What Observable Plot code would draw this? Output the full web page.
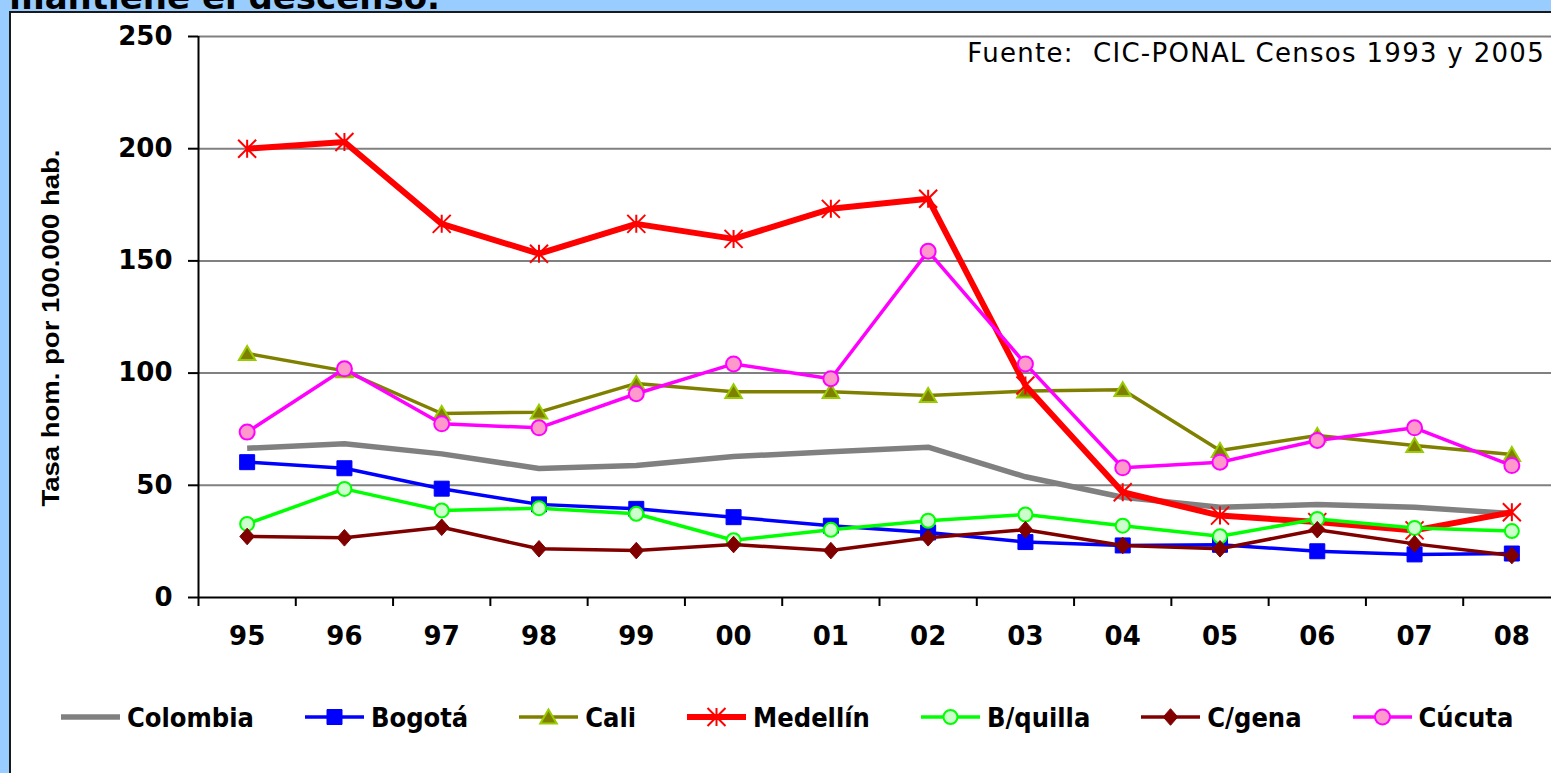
<!DOCTYPE html>
<html><head><meta charset="utf-8">
<script src="https://cdn.jsdelivr.net/npm/d3@7"></script>
<script src="https://cdn.jsdelivr.net/npm/@observablehq/plot@0.6"></script>
<style>
html,body{margin:0;padding:0;}
body{width:1551px;height:773px;overflow:hidden;background:#99CCFF;position:relative;font-family:"DejaVu Sans",sans-serif;}
#panel{position:absolute;left:9px;top:11px;width:1620px;height:820px;background:#fff;border-left:2px solid #1a1a1a;border-top:2px solid #1a1a1a;}
#chart{position:absolute;left:0;top:0;width:1600px;}
#overlay{position:absolute;left:0;top:0;pointer-events:none;}
#legend{position:absolute;left:61px;top:699px;height:36px;display:flex;align-items:center;gap:51px;}
.item{display:flex;align-items:center;gap:7px;}
.item span{font-family:"DejaVu Sans Condensed","DejaVu Sans",sans-serif;font-stretch:condensed;font-weight:bold;font-size:27px;color:#000;white-space:nowrap;}
.item svg{display:block;overflow:visible;}
</style></head><body>
<div id="panel"></div>
<div id="chart"></div>
<svg id="overlay" width="1551" height="773">
  <text x="440" y="9" text-anchor="end" font-family="DejaVu Sans" font-weight="bold" font-size="34" fill="#000">mantiene el descenso.</text>
  <text transform="translate(59,328) rotate(-90)" text-anchor="middle" font-family="Liberation Sans Narrow, Liberation Sans" font-weight="bold" font-size="23" textLength="357" lengthAdjust="spacingAndGlyphs" fill="#000">Tasa hom. por 100.000 hab.</text>
  <text x="1545" y="62" text-anchor="end" font-family="DejaVu Sans" font-size="26" letter-spacing="1.3" style="white-space:pre" fill="#000">Fuente:  CIC-PONAL Censos 1993 y 2005</text>
</svg>
<div id="legend"></div>
<script>
// ---- data ----
const years = ["95","96","97","98","99","00","01","02","03","04","05","06","07","08"];
const seriesNames = ["Colombia","Bogotá","Cali","Medellín","B/quilla","C/gena","Cúcuta"];
const colombia     = [66.5, 68.5, 64.0, 57.5, 58.8, 62.8, 65.0, 67.0, 53.8, 44.7, 40.2, 41.4, 40.2, 37.4];
const bogota       = [60.3, 57.6, 48.5, 41.5, 39.5, 35.8, 32.0, 29.0, 24.7, 23.2, 23.5, 20.6, 19.2, 19.6];
const cali         = [108.7, 101.0, 82.0, 82.6, 95.4, 91.7, 91.7, 90.0, 92.0, 92.6, 65.5, 72.2, 67.7, 63.7];
const medellin     = [200.0, 203.0, 166.5, 153.2, 166.5, 159.8, 173.2, 177.7, 94.5, 46.9, 36.5, 33.6, 29.9, 38.0];
const barranquilla = [32.8, 48.4, 38.8, 39.8, 37.3, 25.5, 30.2, 34.2, 37.0, 32.0, 27.3, 35.0, 31.0, 29.6];
const cartagena    = [27.2, 26.6, 31.3, 21.7, 20.9, 23.6, 20.9, 26.6, 30.2, 23.2, 21.7, 30.2, 23.9, 18.7];
const cucuta       = [73.7, 101.9, 77.4, 75.6, 90.8, 104.1, 97.5, 154.3, 104.1, 57.8, 60.3, 70.0, 75.6, 58.8];
const yTicks = [0, 50, 100, 150, 200, 250];
const seriesValues = [colombia, bogota, cali, medellin, barranquilla, cartagena, cucuta];

// ---- marker shapes ----
const rad = s => Math.sqrt(s / Math.PI);
const square = {draw(c, s){const r = rad(s); c.moveTo(-r,-r); c.lineTo(r,-r); c.lineTo(r,r); c.lineTo(-r,r); c.closePath();}};
const triangle = {draw(c, s){const r = rad(s); c.moveTo(0,-r); c.lineTo(r*1.1, r*0.85); c.lineTo(-r*1.1, r*0.85); c.closePath();}};
const diamond = {draw(c, s){const r = rad(s); c.moveTo(0,-r); c.lineTo(r*0.88,0); c.lineTo(0,r); c.lineTo(-r*0.88,0); c.closePath();}};
const star = {draw(c, s){const r = rad(s); c.moveTo(0,-r); c.lineTo(0,r); c.moveTo(-r,-r); c.lineTo(r,r); c.moveTo(-r,r); c.lineTo(r,-r);}};
const circle = {draw(c, s){const r = rad(s); c.moveTo(r,0); c.arc(0,0,r,0,2*Math.PI); c.closePath();}};

// ---- styles ----
const styles = [
  {stroke:"#808080", width:5.5, symbol:null},
  {stroke:"#0000FF", width:3.5, symbol:square, r:7.5, fill:"#0000FF", mstroke:"#0000FF", mw:1},
  {stroke:"#808000", width:3.5, symbol:triangle, r:7.5, fill:"#808000", mstroke:"#99CC00", mw:2},
  {stroke:"#FF0000", width:6, symbol:star, r:9, fill:"none", mstroke:"#FF0000", mw:2},
  {stroke:"#00FF00", width:3.5, symbol:circle, r:7, fill:"#CCFFCC", mstroke:"#00FF00", mw:2},
  {stroke:"#800000", width:3.5, symbol:diamond, r:8.3, fill:"#800000", mstroke:"#800000", mw:1},
  {stroke:"#FF00FF", width:3.5, symbol:circle, r:7.5, fill:"#FF99CC", mstroke:"#FF00FF", mw:2}
];

const rows = seriesNames.map((name, k) => seriesValues[k].map((v, i) => ({series: name, i, v})));

const marks = [
  Plot.ruleY(yTicks.filter(v => v > 0), {stroke:"#808080", strokeWidth:2}),
  Plot.ruleY([0], {stroke:"#000", strokeWidth:2}),
  Plot.ruleX([-0.5], {y1:0, y2:250, stroke:"#000", strokeWidth:2}),
  Plot.axisY({ticks: yTicks, tickSize:10, tickPadding:16, label:null, strokeWidth:2}),
  Plot.axisX({ticks: d3.range(years.length + 1).map(i => i - 0.5), tickSize:9, tickFormat: () => "", label:null, strokeWidth:2}),
  Plot.axisX({ticks: d3.range(years.length), tickSize:0, tickPadding:29, tickFormat: i => years[i], label:null})
];
rows.forEach((data, k) => {
  const st = styles[k];
  marks.push(Plot.line(data, {x:"i", y:"v", stroke: st.stroke, strokeWidth: st.width, strokeLinejoin:"round", strokeLinecap:"butt"}));
  if (st.symbol) marks.push(Plot.dot(data, {x:"i", y:"v", symbol: st.symbol, r: st.r, fill: st.fill, stroke: st.mstroke, strokeWidth: st.mw}));
});

const chart = Plot.plot({
  width: 1600, height: 700,
  marginLeft: 198, marginRight: 40, marginTop: 36, marginBottom: 103,
  x: {type: "linear", domain: [-0.5, years.length - 0.5]},
  y: {domain: [0, 250]},
  style: {fontFamily: "DejaVu Sans", fontSize: "26px", fontWeight: "bold", color: "#000", background: "transparent", maxWidth: "none", overflow: "visible"},
  marks
});
document.getElementById("chart").appendChild(chart);

// ---- legend ----
const legend = d3.select("#legend");
seriesNames.forEach((name, k) => {
  const st = styles[k];
  const item = legend.append("div").attr("class", "item");
  const svg = item.append("svg").attr("width", 59).attr("height", 24);
  svg.append("line").attr("x1", 0).attr("x2", 59).attr("y1", 12).attr("y2", 12)
    .attr("stroke", st.stroke).attr("stroke-width", st.width);
  if (st.symbol) {
    svg.append("path").attr("transform", "translate(29.5,12)")
      .attr("d", d3.symbol(st.symbol, st.r * st.r * Math.PI)())
      .attr("fill", st.fill).attr("stroke", st.mstroke).attr("stroke-width", st.mw);
  }
  item.append("span").text(name);
});
</script>
</body></html>
